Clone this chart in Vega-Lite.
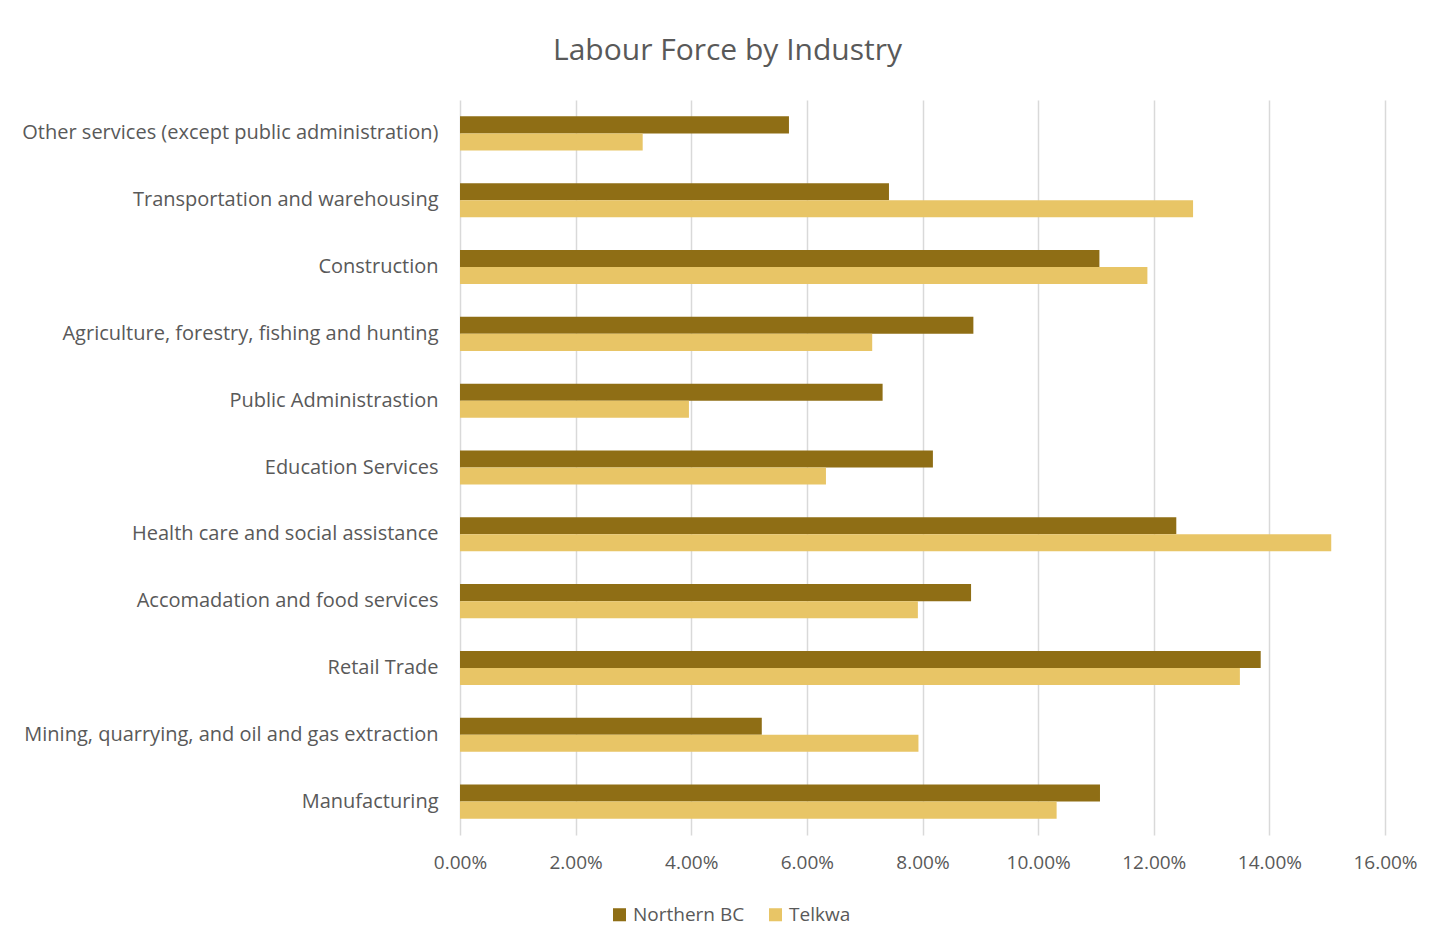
{
  "$schema": "https://vega.github.io/schema/vega-lite/v6.json",
  "width": 925,
  "height": 735,
  "autosize": {"type": "none"},
  "padding": {"left": 460, "top": 100, "right": 65, "bottom": 114},
  "background": "white",
  "title": {
    "text": "Labour Force by Industry",
    "anchor": "middle",
    "dx": -195,
    "offset": 34,
    "fontSize": 30,
    "font": "Open Sans",
    "fontWeight": "normal",
    "color": "#595959"
  },
  "data": {
    "values": [
      {"industry": "Other services (except public administration)", "region": "Northern BC", "share": 0.0569},
      {"industry": "Other services (except public administration)", "region": "Telkwa", "share": 0.0316},
      {"industry": "Transportation and warehousing", "region": "Northern BC", "share": 0.0742},
      {"industry": "Transportation and warehousing", "region": "Telkwa", "share": 0.1268},
      {"industry": "Construction", "region": "Northern BC", "share": 0.1106},
      {"industry": "Construction", "region": "Telkwa", "share": 0.1189},
      {"industry": "Agriculture, forestry, fishing and hunting", "region": "Northern BC", "share": 0.0888},
      {"industry": "Agriculture, forestry, fishing and hunting", "region": "Telkwa", "share": 0.0713},
      {"industry": "Public Administrastion", "region": "Northern BC", "share": 0.0731},
      {"industry": "Public Administrastion", "region": "Telkwa", "share": 0.0396},
      {"industry": "Education Services", "region": "Northern BC", "share": 0.0818},
      {"industry": "Education Services", "region": "Telkwa", "share": 0.0633},
      {"industry": "Health care and social assistance", "region": "Northern BC", "share": 0.1239},
      {"industry": "Health care and social assistance", "region": "Telkwa", "share": 0.1507},
      {"industry": "Accomadation and food services", "region": "Northern BC", "share": 0.0884},
      {"industry": "Accomadation and food services", "region": "Telkwa", "share": 0.0792},
      {"industry": "Retail Trade", "region": "Northern BC", "share": 0.1385},
      {"industry": "Retail Trade", "region": "Telkwa", "share": 0.1349},
      {"industry": "Mining, quarrying, and oil and gas extraction", "region": "Northern BC", "share": 0.0522},
      {"industry": "Mining, quarrying, and oil and gas extraction", "region": "Telkwa", "share": 0.0793},
      {"industry": "Manufacturing", "region": "Northern BC", "share": 0.1107},
      {"industry": "Manufacturing", "region": "Telkwa", "share": 0.1032}
    ]
  },
  "mark": {"type": "bar"},
  "encoding": {
    "y": {
      "field": "industry",
      "type": "nominal",
      "sort": null,
      "title": null,
      "scale": {"paddingInner": 0.49, "paddingOuter": 0.245},
      "axis": {
        "domain": false,
        "ticks": false,
        "grid": false,
        "labelPadding": 22,
        "labelFontSize": 20,
        "labelFont": "Open Sans",
        "labelColor": "#595959",
        "labelLimit": 500
      }
    },
    "yOffset": {"field": "region", "type": "nominal", "sort": ["Northern BC", "Telkwa"]},
    "x": {
      "field": "share",
      "type": "quantitative",
      "title": null,
      "scale": {"domain": [0, 0.16], "nice": false},
      "axis": {
        "format": ".2%",
        "values": [0, 0.02, 0.04, 0.06, 0.08, 0.1, 0.12, 0.14, 0.16],
        "domain": false,
        "ticks": false,
        "grid": true,
        "gridColor": "#D9D9D9",
        "gridWidth": 1.5,
        "labelFlush": false,
        "labelPadding": 18,
        "labelFontSize": 19,
        "labelFont": "Open Sans",
        "labelColor": "#595959"
      }
    },
    "color": {
      "field": "region",
      "type": "nominal",
      "title": null,
      "scale": {"domain": ["Northern BC", "Telkwa"], "range": ["#8F6E15", "#E8C566"]},
      "legend": {
        "orient": "none",
        "direction": "horizontal",
        "legendX": 150,
        "legendY": 805,
        "symbolType": "square",
        "symbolSize": 170,
        "symbolStrokeWidth": 0,
        "labelFontSize": 19,
        "labelFont": "Open Sans",
        "labelColor": "#595959",
        "columnPadding": 21,
        "labelOffset": 4
      }
    }
  },
  "config": {"view": {"stroke": null}}
}
